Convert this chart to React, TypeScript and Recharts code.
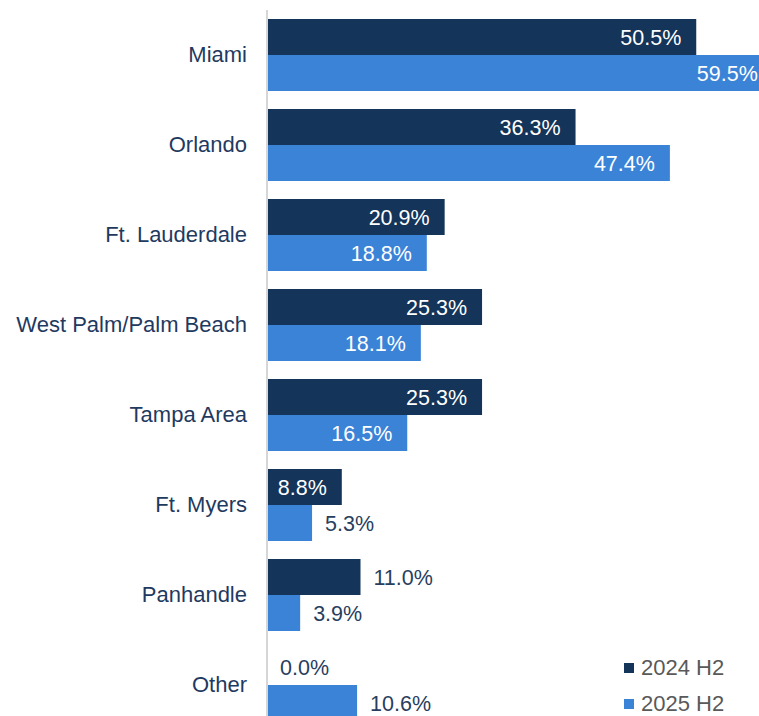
import React from 'react';
import { BarChart, Bar, XAxis, YAxis, LabelList } from 'recharts';

const markets = [
  'Miami',
  'Orlando',
  'Ft. Lauderdale',
  'West Palm/Palm Beach',
  'Tampa Area',
  'Ft. Myers',
  'Panhandle',
  'Other',
];
const h2024 = [50.5, 36.3, 20.9, 25.3, 25.3, 8.8, 11.0, 0.0];
const h2025 = [59.5, 47.4, 18.8, 18.1, 16.5, 5.3, 3.9, 10.6];
const seriesNames = ['2024 H2', '2025 H2'];

// which labels sit past the bar end instead of inside it
const outside2024 = ['Panhandle', 'Other'];
const outside2025 = ['Ft. Myers', 'Panhandle', 'Other'];

const DARK = '#14345a';
const LIGHT = '#3b83d7';
const TEXT = '#1f3a5f';
const FONT = '"Liberation Sans", Arial, sans-serif';

const chartData = markets.map((name, i) => ({
  name,
  y2024: h2024[i],
  y2025: h2025[i],
}));

const makeLabel = (outsideList: string[]) => (props: any) => {
  const { x, y, width, height, value, index } = props;
  const name = markets[index];
  const outside = outsideList.includes(name);
  const w = width || 0;
  const tx = outside ? x + w + 13 : x + w - 15;
  return (
    <text
      x={tx}
      y={y + height / 2}
      dy="0.36em"
      textAnchor={outside ? 'start' : 'end'}
      fill={outside ? '#283e5e' : '#ffffff'}
      fontSize={21.5}
      fontFamily={FONT}
    >
      {Number(value).toFixed(1)}%
    </text>
  );
};

const CategoryTick = (props: any) => {
  const { x, y, payload } = props;
  return (
    <text
      x={x - 12}
      y={y}
      dy="0.33em"
      textAnchor="end"
      fill={TEXT}
      fontSize={22}
      fontFamily={FONT}
    >
      {payload.value}
    </text>
  );
};

const LegendBox = () => {
  const colors = [DARK, LIGHT];
  return (
    <div
      style={{
        position: 'absolute',
        left: 624,
        top: 650,
        fontFamily: FONT,
        fontSize: 22,
        color: '#595959',
      }}
    >
      {seriesNames.map((label, i) => (
        <div key={label} style={{ display: 'flex', alignItems: 'center', height: 36 }}>
          <span style={{ width: 10, height: 10, background: colors[i], marginRight: 7, display: 'inline-block' }} />
          <span>{label}</span>
        </div>
      ))}
    </div>
  );
};

export default function App() {
  return (
    <div
      style={{
        position: 'absolute',
        left: 0,
        top: 0,
        width: 759,
        height: 716,
        overflow: 'hidden',
        background: '#ffffff',
      }}
    >
      <BarChart
        width={790}
        height={740}
        data={chartData}
        layout="vertical"
        margin={{ top: 10, right: 13, bottom: 10, left: 0 }}
        barGap={0}
        barCategoryGap={9}
      >
        <XAxis type="number" domain={[0, 60]} hide />
        <YAxis
          type="category"
          dataKey="name"
          width={267}
          axisLine={{ stroke: '#d6d6d6', strokeWidth: 2 }}
          tickLine={false}
          tick={<CategoryTick />}
          interval={0}
        />
        <Bar
          dataKey="y2024"
          name={seriesNames[0]}
          fill={DARK}
          barSize={36}
          minPointSize={() => 0.01}
          isAnimationActive={false}
        >
          <LabelList dataKey="y2024" content={makeLabel(outside2024)} />
        </Bar>
        <Bar dataKey="y2025" name={seriesNames[1]} fill={LIGHT} barSize={36} isAnimationActive={false}>
          <LabelList dataKey="y2025" content={makeLabel(outside2025)} />
        </Bar>
      </BarChart>
      <LegendBox />
    </div>
  );
}
